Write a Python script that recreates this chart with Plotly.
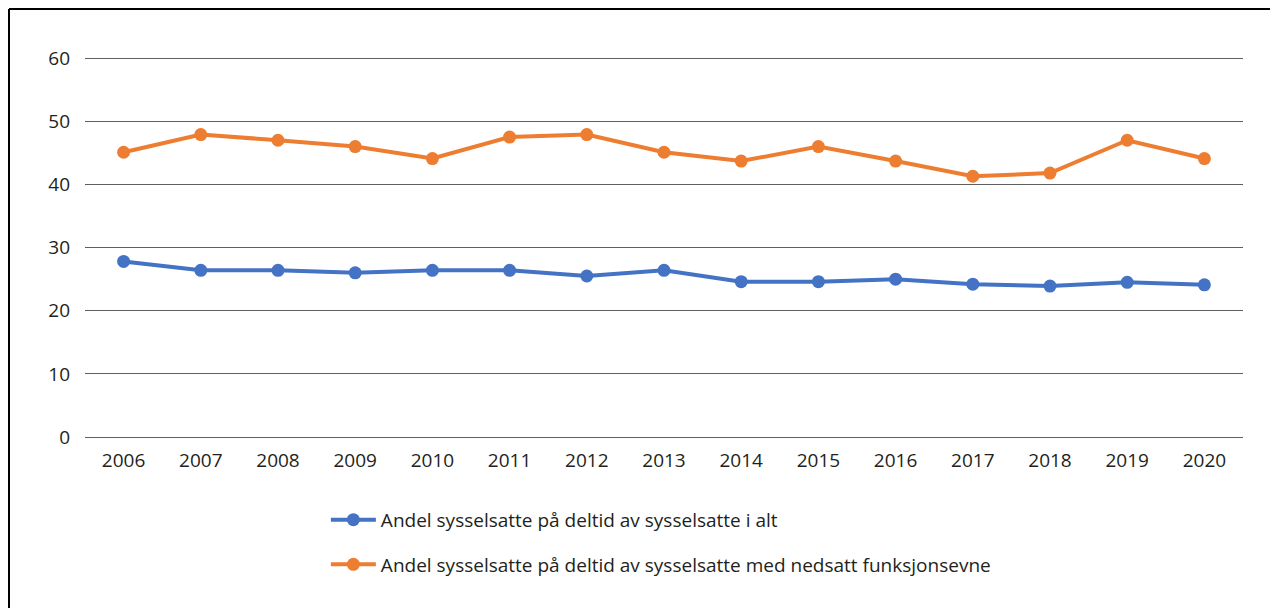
import plotly.graph_objects as go

years = ["2006", "2007", "2008", "2009", "2010", "2011", "2012", "2013",
         "2014", "2015", "2016", "2017", "2018", "2019", "2020"]
total = [27.8, 26.4, 26.4, 26.0, 26.4, 26.4, 25.5, 26.4,
         24.6, 24.6, 25.0, 24.2, 23.9, 24.5, 24.1]
disabled = [45.1, 47.9, 47.0, 46.0, 44.1, 47.5, 47.9, 45.1,
            43.7, 46.0, 43.7, 41.3, 41.8, 47.0, 44.1]
y_ticks = [0, 10, 20, 30, 40, 50, 60]
name_total = "Andel sysselsatte på deltid av sysselsatte i alt"
name_disabled = "Andel sysselsatte på deltid av sysselsatte med nedsatt funksjonsevne"

BLUE = "#4472C4"
ORANGE = "#ED7D31"
FONT = "Open Sans"
TXT = "#231f20"
GRID = "#5f5f5f"

fig = go.Figure()
fig.add_trace(go.Scatter(x=years, y=total, name=name_total, mode="lines+markers",
                         line=dict(color=BLUE, width=4), marker=dict(size=13, color=BLUE),
                         legendgroup="a"))
fig.add_trace(go.Scatter(x=years, y=disabled, name=name_disabled, mode="lines+markers",
                         line=dict(color=ORANGE, width=4), marker=dict(size=13, color=ORANGE),
                         legendgroup="b"))

# page body has an 8px margin, so the figure is 8px smaller and offsets are compensated
W, H = 1270, 600
L, T, R, B = 77, 47, 35, 171
pw = W - L - R
ph = H - T - B

fig.update_layout(
    width=W, height=H,
    margin=dict(l=L, r=R, t=T, b=B),
    paper_bgcolor="white", plot_bgcolor="white",
    font=dict(family=FONT, size=19, color=TXT),
    showlegend=True,
    legend=dict(orientation="v", x=0.208, xanchor="left", y=-0.167, yanchor="top",
                tracegroupgap=17, itemwidth=45,
                font=dict(family=FONT, size=19, color=TXT),
                bgcolor="rgba(0,0,0,0)"),
    xaxis=dict(type="category", range=[-0.5, len(years) - 0.5],
               showgrid=False, showline=False, zeroline=False,
               ticks="", ticklabelstandoff=10, tickfont=dict(size=19)),
    yaxis=dict(range=[0, 60.5], tickvals=y_ticks,
               showgrid=True, gridcolor=GRID, gridwidth=1,
               zeroline=True, zerolinecolor=GRID, zerolinewidth=1,
               showline=False, ticks="", ticklabelstandoff=14, tickfont=dict(size=19)),
    shapes=[
        dict(type="line", xref="paper", yref="paper",
             x0=-(L - 1) / pw, x1=(W - L) / pw, y0=1 + (T - 1) / ph, y1=1 + (T - 1) / ph,
             line=dict(color="black", width=2)),
        dict(type="line", xref="paper", yref="paper",
             x0=-(L - 1) / pw, x1=-(L - 1) / pw, y0=1 + (T - 1) / ph, y1=-(B) / ph,
             line=dict(color="black", width=2)),
    ],
)

fig.write_html("out.html")
